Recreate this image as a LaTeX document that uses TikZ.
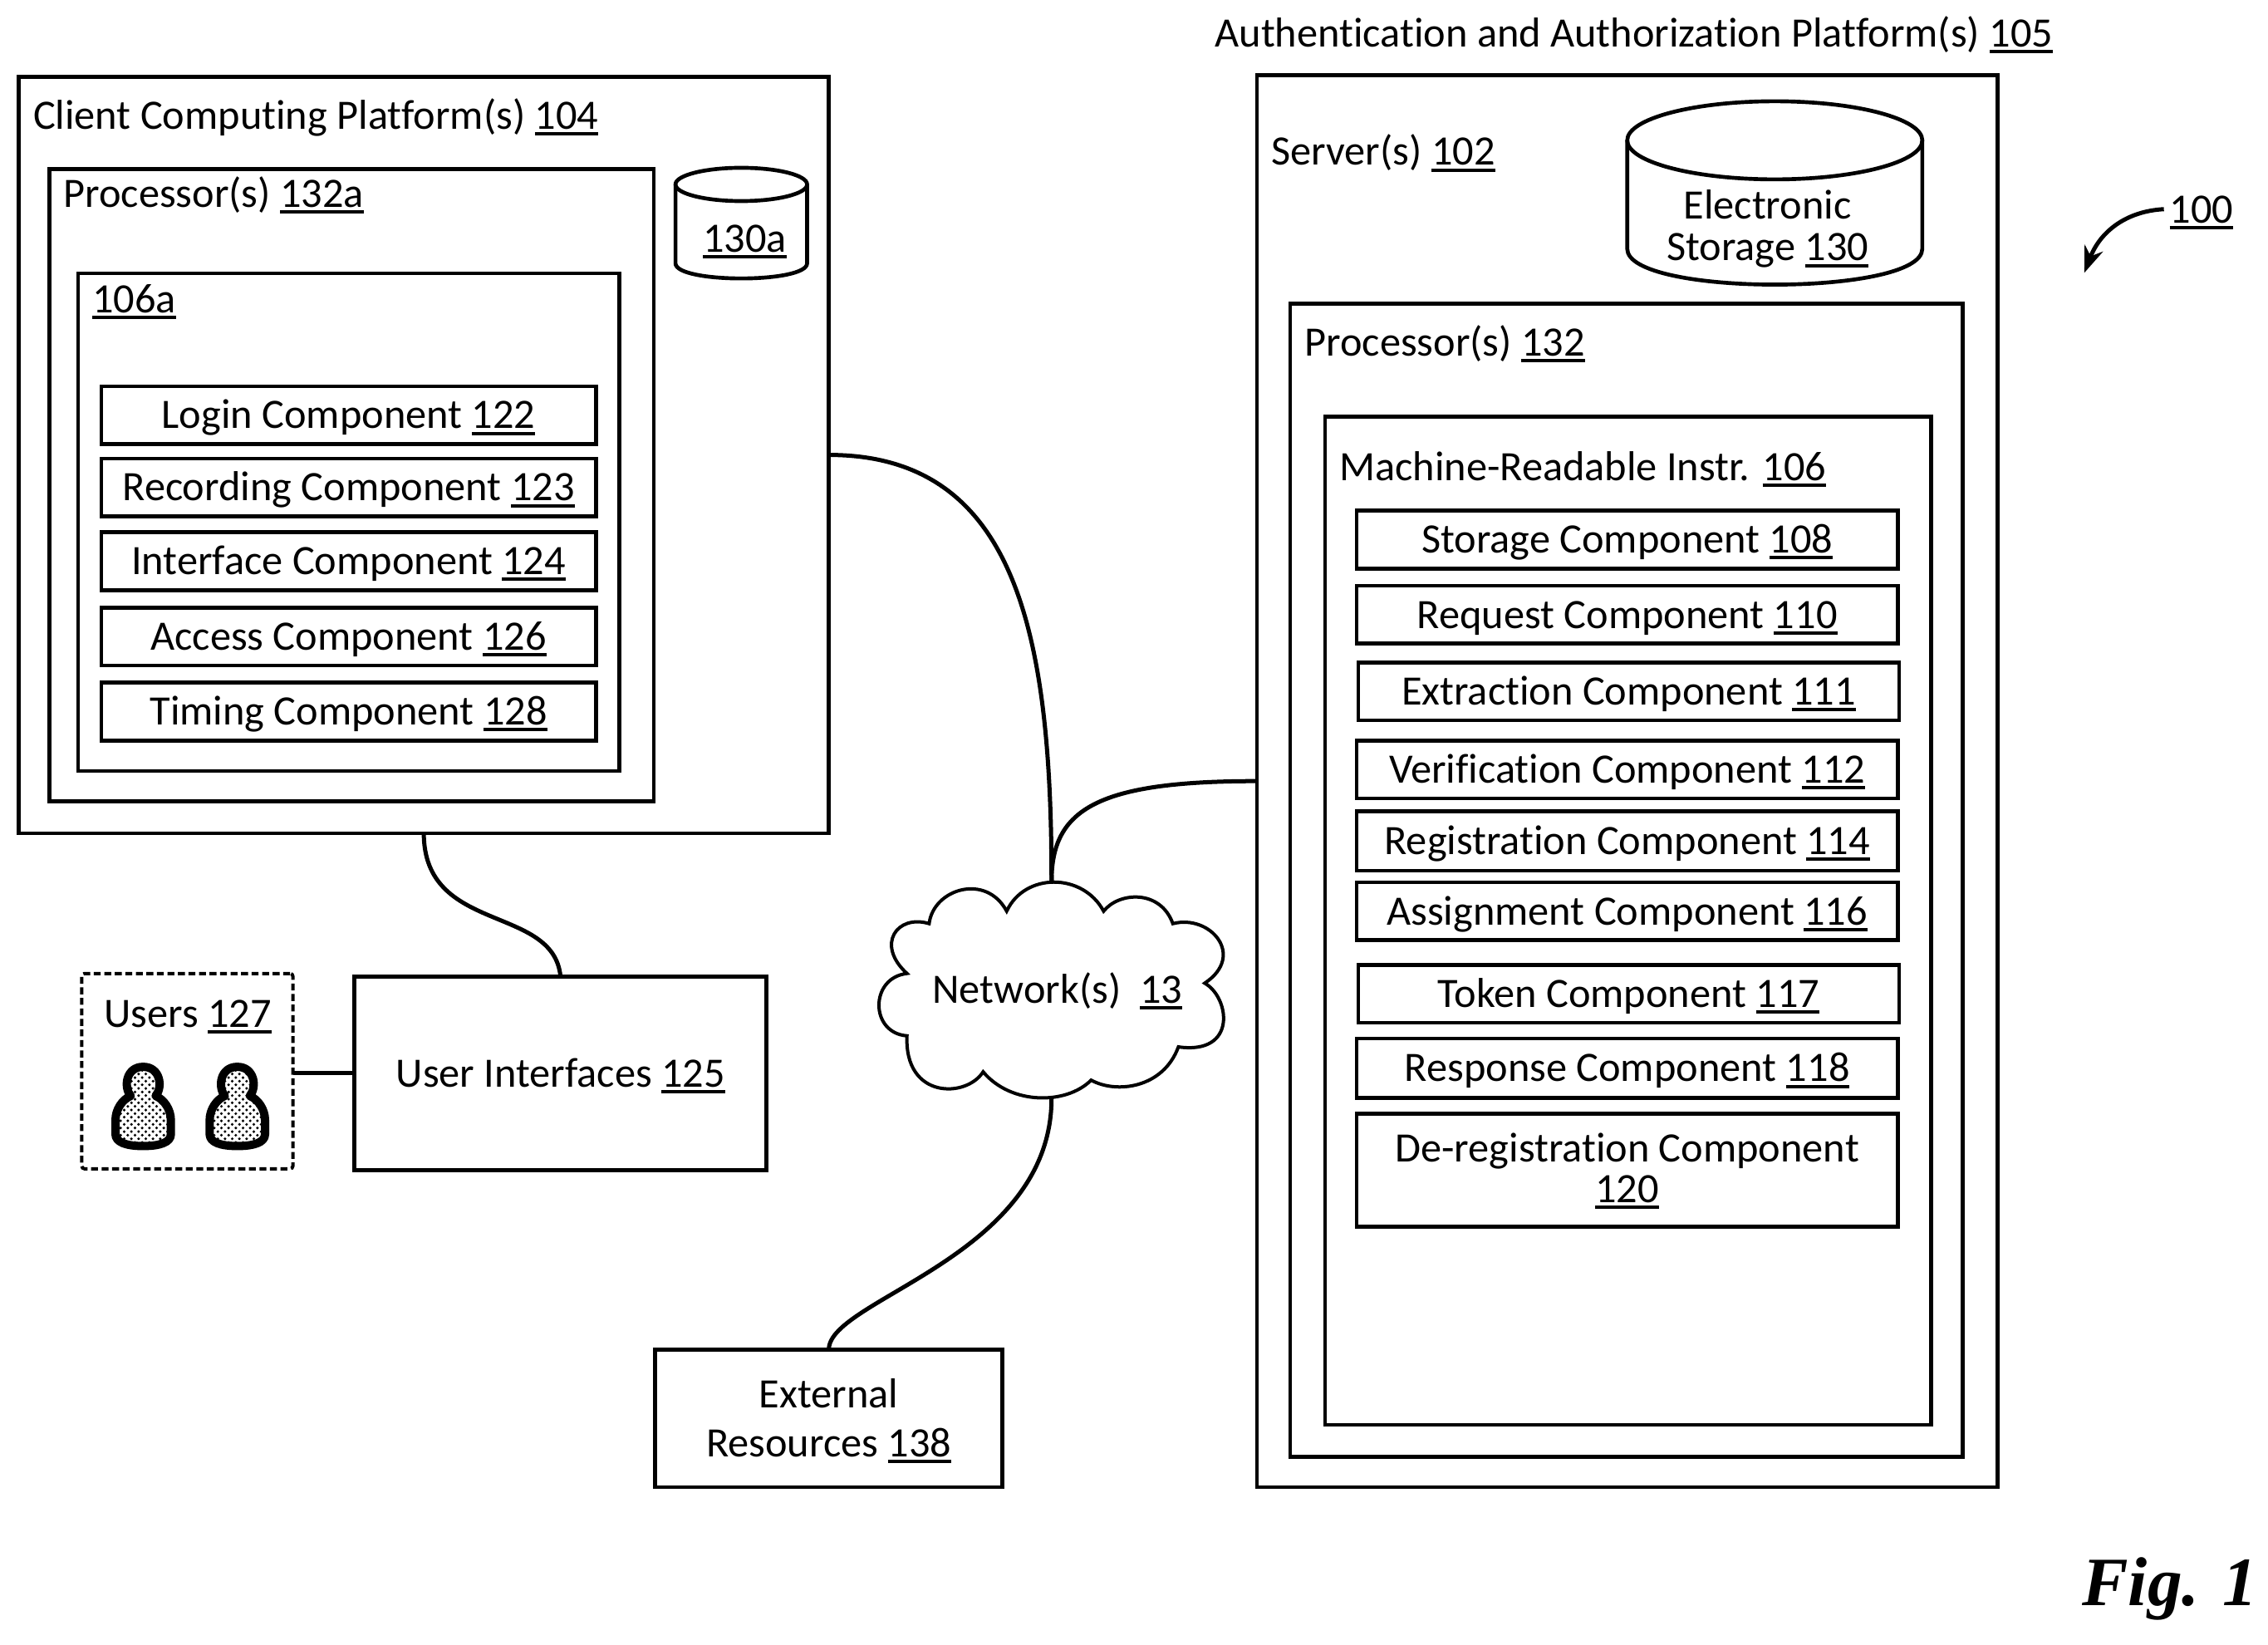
\documentclass[tikz,border=0pt]{standalone}
\usepackage{fontspec}
\setmainfont[Ligatures=NoCommon]{Carlito}
\newfontfamily\figfont{Liberation Serif}
\usetikzlibrary{arrows.meta,patterns}
\pgfdeclarepatternformonly{userdots}{\pgfqpoint{-0.1pt}{-0.1pt}}{\pgfqpoint{2.7pt}{2.7pt}}{\pgfqpoint{2.6pt}{2.6pt}}{%
  \pgfpathcircle{\pgfqpoint{0.65pt}{0.65pt}}{0.52pt}
  \pgfpathcircle{\pgfqpoint{1.95pt}{1.95pt}}{0.52pt}
  \pgfusepath{fill}}
\newcommand\unum[1]{\sbox0{#1}\leavevmode\rlap{\rule[-2.3pt]{\wd0}{1.2pt}}\box0}
\tikzset{
  every node/.style={font=\fontsize{15.1}{18}\selectfont,inner sep=0pt,outer sep=0pt},
  box/.style={draw,line width=1.4pt,text height=9.7pt,text depth=0pt,align=center},
  lab/.style={anchor=west,text height=9.7pt,text depth=0pt},
  clab/.style={anchor=center,text height=9.7pt,text depth=0pt},
  wire/.style={line width=1.5pt},
  cyl/.style={line width=1.4pt}
}
\newcommand\bx[6]{\node[box,minimum width={(#4-#2)*0.5223pt},minimum height={(#5-#3)*0.5223pt}] (#1) at ({(#2+#4)/2},{(#3+#5)/2}) {#6};}
\newcommand\cyln[6]{% x1 x2 ytop ymid yside ybottom-control
  \draw[cyl] ({(#1+#2)/2},#4) ellipse [x radius={(#2-#1)/2},y radius={#4-#3}];
  \draw[cyl] (#1,#4) -- (#1,#5) .. controls (#1,#6) and (#2,#6) .. (#2,#5) -- (#2,#4);
}
\begin{document}
\begin{tikzpicture}[x=0.5223pt,y=-0.5223pt]
\path[fill=white,use as bounding box] (0,0) rectangle (1568,1137);
% Left side
\bx{client}{13}{53}{573}{576}{}
\bx{procA}{34}{117}{452}{554}{}
\bx{instrA}{54}{189}{428}{533}{}
\bx{login}{70}{267}{412}{307}{Login Component \unum{122}}
\bx{rec}{70}{317}{412}{357}{Recording Component \unum{123}}
\bx{iface}{70}{368}{412}{408}{Interface Component \unum{124}}
\bx{access}{70}{420}{412}{460}{Access Component \unum{126}}
\bx{timing}{70}{472}{412}{512}{Timing Component \unum{128}}
\node[lab] (clientlab) at (23,80) {Client Computing Platform(s) \unum{104}};
\node[lab] (procAlab) at (44,134) {Processor(s) \unum{132a}};
\node[lab] (instrAlab) at (64,207) {\unum{106a}};
\cyln{467}{558}{116}{127.5}{182}{196}
\node[clab] (storA) at (515,165) {\unum{130a}};
% Right side
\node[lab] (title) at (840,23) {Authentication and Authorization Platform(s) \unum{105}};
\bx{server}{869}{52}{1381}{1028}{}
\bx{proc}{892}{210}{1357}{1007}{}
\bx{instr}{916}{288}{1335}{985}{}
\node[lab] (serverlab) at (879,105) {Server(s) \unum{102}};
\node[lab] (proclab) at (902,237) {Processor(s) \unum{132}};
\node[lab] (instrlab) at (926,323) {Machine-Readable Instr. \unum{106}};
\cyln{1125}{1329}{70}{97}{172}{205}
\node[clab] (stor1) at (1222,142) {Electronic};
\node[clab] (stor2) at (1222,171) {Storage \unum{130}};
\bx{c108}{938}{353}{1312}{393}{Storage Component \unum{108}}
\bx{c110}{938}{405}{1312}{445}{Request Component \unum{110}}
\bx{c111}{939}{458}{1313}{498}{Extraction Component \unum{111}}
\bx{c112}{938}{512}{1312}{552}{Verification Component \unum{112}}
\bx{c114}{938}{561}{1312}{602}{Registration Component \unum{114}}
\bx{c116}{938}{610}{1312}{650}{Assignment Component \unum{116}}
\bx{c117}{939}{667}{1313}{707}{Token Component \unum{117}}
\bx{c118}{938}{718}{1312}{759}{Response Component \unum{118}}
\bx{c120}{938}{770}{1312}{848}{}
\node[clab] (c120a) at (1125,794) {De-registration Component};
\node[clab] (c120b) at (1125,822) {\unum{120}};
% Users
\node[draw,line width=1.2pt,dash pattern=on 2.5pt off 1.3pt,rounded corners=1pt,minimum width={146*0.5223pt},minimum height={135*0.5223pt}] (users) at (129.5,740.5) {};
\node[lab] (userslab) at (72,701) {Users \unum{127}};
\begin{scope}[x=0.1pt,y=-0.1pt,xshift=18pt,yshift=-342pt]
\foreach \px in {337,677}{
  \begin{scope}[xshift=\px*0.1pt]
  \draw[line width=3pt,pattern=userdots,line join=round]
    (-45,537) .. controls (-72,505) and (-62,432) .. (0,432)
    .. controls (62,432) and (72,505) .. (45,537)
    .. controls (75,550) and (100,585) .. (100,625) -- (100,675)
    .. controls (100,705) and (60,718) .. (0,718)
    .. controls (-60,718) and (-100,705) .. (-100,675) -- (-100,625)
    .. controls (-100,585) and (-75,550) .. (-45,537) -- cycle;
  \end{scope}
}
\end{scope}
\bx{ui}{245}{675}{530}{809}{User Interfaces \unum{125}}
% External
\bx{ext}{453}{933}{693}{1028}{}
\node[clab] (ext1) at (573,964) {External};
\node[clab] (ext2) at (573,998) {Resources \unum{138}};
% Cloud
\begin{scope}[x=0.1pt,y=-0.1pt,xshift=309pt,yshift=-309pt]
\draw[line width=1.2pt,fill=white]
  (265,245) .. controls (280,120) and (470,60) .. (545,200)
  .. controls (610,60) and (820,60) .. (895,200)
  .. controls (950,130) and (1100,120) .. (1145,245)
  .. controls (1280,210) and (1410,360) .. (1260,460)
  .. controls (1350,510) and (1380,720) .. (1165,690)
  .. controls (1110,840) and (940,860) .. (850,810)
  .. controls (760,900) and (560,900) .. (460,780)
  .. controls (400,875) and (175,880) .. (185,650)
  .. controls (50,640) and (50,440) .. (185,425)
  .. controls (70,320) and (150,210) .. (265,245) -- cycle;
\coordinate (cloudtop) at (707,92);
\coordinate (cloudbot) at (707,875);
\end{scope}
\node[clab] (net) at (731,684) {Network(s) \ \unum{13}};
% Connectors
\draw[wire] (client.south) .. controls +(0,70) and +(-5,-50) .. (ui.north);
\draw[wire] (users.east |- ui.west) -- (ui.west);
\draw[wire] (client.east) .. controls +(130,0) and +(0,-170) .. (cloudtop);
\draw[wire] (server.west) .. controls +(-110,0) and +(0,-50) .. (cloudtop);
\draw[wire] (cloudbot) .. controls +(0,110) and +(0,-35) .. (ext.north);
% Ref numeral
\node[clab] (r100) at (1522,145) {\unum{100}};
\coordinate (r100s) at (1496,144.6);
\coordinate (r100e) at (1441,188.6);
\draw[line width=1.5pt,-{Stealth[length=9.5pt,width=7pt]}] (r100s) .. controls (1470,146) and (1452,160) .. (r100e);
% Fig
\node[anchor=base,font=\fontsize{25}{30}\selectfont\figfont\bfseries\itshape] (fig) at (1500,1110) {Fig. 1};
\end{tikzpicture}
\end{document}
